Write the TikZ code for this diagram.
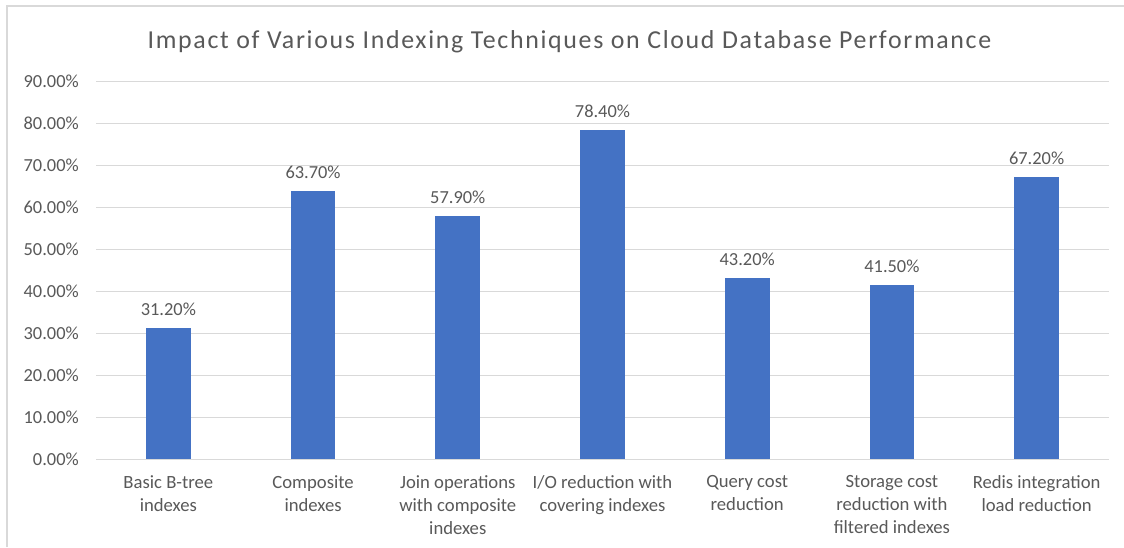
\documentclass[tikz,border=0pt]{standalone}
\usepackage{fontspec}
\setmainfont{Carlito}
\definecolor{barblue}{RGB}{68,114,196}
\definecolor{labelgray}{RGB}{89,89,89}
\definecolor{gridgray}{RGB}{217,217,217}
\begin{document}
\begin{tikzpicture}[x=0.75pt,y=-0.75pt,
  grid/.style={draw=gridgray,line width=0.75pt},
  bar/.style={fill=barblue},
  tick/.style={anchor=east,inner sep=0pt,text=labelgray,font=\fontsize{13.8}{16}\selectfont},
  value/.style={anchor=base,inner sep=0pt,text=labelgray,font=\fontsize{13.8}{16}\selectfont},
  category/.style={anchor=north,align=center,inner sep=0pt,text=labelgray,font=\fontsize{14}{17}\selectfont}]
  \useasboundingbox (0,0) rectangle (1124,547);
  \fill[white] (0,0) rectangle (1124,547);
  \draw[gridgray,line width=1.2pt] (7,547) -- (7,6) -- (1124,6);
  \node[anchor=base,inner sep=0pt,text=labelgray,font=\fontsize{19.4}{22}\selectfont\addfontfeature{LetterSpace=6.5}] (title) at (569.5,48.3)
    {Impact of Various Indexing Techniques on Cloud Database Performance};
  \foreach \k/\txt in {0/0.00,1/10.00,2/20.00,3/30.00,4/40.00,5/50.00,6/60.00,7/70.00,8/80.00,9/90.00} {
    \draw[grid] (96,{459-42*\k}) -- (1109,{459-42*\k});
    \node[tick] (tick\k) at (79,{459-42*\k}) {\txt\%};
  }
  \foreach \i/\v/\lab in {1/31.20/{Basic B-tree\\indexes},
                          2/63.70/{Composite\\indexes},
                          3/57.90/{Join operations\\with composite\\indexes},
                          4/78.40/{I/O reduction with\\covering indexes},
                          5/43.20/{Query cost\\reduction},
                          6/41.50/{Storage cost\\reduction with\\filtered indexes},
                          7/67.20/{Redis integration\\load reduction}} {
    \fill[bar] ({96+144.71*(\i-0.5)-22.4},459) rectangle ({96+144.71*(\i-0.5)+22.4},{459-4.2*\v});
    \node[value] (val\i) at ({96+144.71*(\i-0.5)},{459-4.2*\v-12.5}) {\v\%};
    \node[category] (cat\i) at ({96+144.71*(\i-0.5)},475.5) {\lab};
  }
\end{tikzpicture}
\end{document}
